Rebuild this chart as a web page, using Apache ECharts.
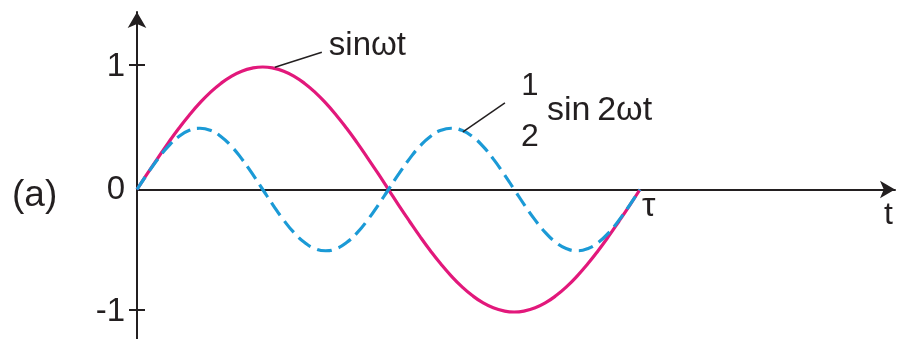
<!DOCTYPE html>
<html>
<head>
<meta charset="utf-8">
<script src="https://cdn.jsdelivr.net/npm/echarts@6/dist/echarts.min.js"></script>
<style>
  html, body { margin: 0; padding: 0; background: #ffffff; }
  #chart { width: 900px; height: 339px; }
</style>
</head>
<body>
<div id="chart"></div>
<script>
// Time samples over one period, t in units of tau (0 .. 1)
const tSamples = [0, 0.0208, 0.0417, 0.0625, 0.0833, 0.1042, 0.125, 0.1458, 0.1667, 0.1875, 0.2083, 0.2292,
                  0.25, 0.2708, 0.2917, 0.3125, 0.3333, 0.3542, 0.375, 0.3958, 0.4167, 0.4375, 0.4583, 0.4792,
                  0.5, 0.5208, 0.5417, 0.5625, 0.5833, 0.6042, 0.625, 0.6458, 0.6667, 0.6875, 0.7083, 0.7292,
                  0.75, 0.7708, 0.7917, 0.8125, 0.8333, 0.8542, 0.875, 0.8958, 0.9167, 0.9375, 0.9583, 0.9792, 1];
// sin(wt)
const sinValues = [0, 0.131, 0.259, 0.383, 0.5, 0.609, 0.707, 0.793, 0.866, 0.924, 0.966, 0.991,
                   1, 0.991, 0.966, 0.924, 0.866, 0.793, 0.707, 0.609, 0.5, 0.383, 0.259, 0.131,
                   0, -0.131, -0.259, -0.383, -0.5, -0.609, -0.707, -0.793, -0.866, -0.924, -0.966, -0.991,
                   -1, -0.991, -0.966, -0.924, -0.866, -0.793, -0.707, -0.609, -0.5, -0.383, -0.259, -0.131, 0];
// (1/2) sin(2wt)
const halfSin2Values = [0, 0.129, 0.25, 0.354, 0.433, 0.483, 0.5, 0.483, 0.433, 0.354, 0.25, 0.129,
                        0, -0.129, -0.25, -0.354, -0.433, -0.483, -0.5, -0.483, -0.433, -0.354, -0.25, -0.129,
                        0, 0.129, 0.25, 0.354, 0.433, 0.483, 0.5, 0.483, 0.433, 0.354, 0.25, 0.129,
                        0, -0.129, -0.25, -0.354, -0.433, -0.483, -0.5, -0.483, -0.433, -0.354, -0.25, -0.129, 0];
// Axis marks
const yTickValues = [-1, 1];
const yLabelValues = [-1, 0, 1];
const periodMark = [1, 0];
// Points on the curves where the callouts attach
const sinCalloutAt = [0.274, 0.99];
const halfCalloutAt = [0.648, 0.479];

const INK = '#231f20';
const PINK = '#e2187b';
const BLUE = '#1b9ad6';
const FONT = '"Liberation Sans", Arial, sans-serif';

const pair = (vals) => tSamples.map((t, i) => [t, vals[i]]);

const chart = echarts.init(document.getElementById('chart'), null, { renderer: 'canvas' });

chart.setOption({
  animation: false,
  backgroundColor: '#ffffff',
  grid: { left: 137, right: 5, top: 12, bottom: 0, containLabel: false, outerBoundsMode: 'none' },
  xAxis: {
    type: 'value',
    min: 0,
    max: 1.507,
    axisLine: {
      onZero: true,
      symbol: ['none', 'arrow'],
      symbolSize: [13, 15],
      lineStyle: { color: INK, width: 2 }
    },
    axisTick: { show: false },
    splitLine: { show: false },
    axisLabel: { show: false }
  },
  yAxis: {
    type: 'value',
    min: -1.2204,
    max: 1.449,
    axisLine: {
      show: true,
      onZero: false,
      symbol: ['none', 'arrow'],
      symbolSize: [14, 16],
      lineStyle: { color: INK, width: 2 }
    },
    axisTick: { show: false },
    splitLine: { show: false },
    axisLabel: {
      customValues: yLabelValues,
      formatter: (v) => String(v),
      margin: 12,
      color: INK,
      fontSize: 33,
      fontFamily: FONT,
      padding: [4, 0, 0, 0]
    }
  },
  graphic: [
    { type: 'text', left: 12, top: 177, style: { text: '(a)', fill: INK, font: '37px ' + FONT } },
    { type: 'text', left: 884, top: 199, style: { text: 't', fill: INK, font: '32px ' + FONT } }
  ],
  series: [
    {
      name: 'sinωt',
      type: 'line',
      data: pair(sinValues),
      smooth: true,
      showSymbol: false,
      lineStyle: { color: PINK, width: 3.2 },
      z: 3
    },
    {
      name: '½ sin2ωt',
      type: 'line',
      data: pair(halfSin2Values),
      smooth: true,
      showSymbol: false,
      lineStyle: { color: BLUE, width: 3.2, type: [15, 7] },
      z: 4
    },
    {
      // Cross ticks on the vertical axis
      type: 'custom',
      clip: false,
      data: yTickValues.map(v => [0, v]),
      renderItem: (params, api) => {
        const p = api.coord([api.value(0), api.value(1)]);
        return {
          type: 'line',
          shape: { x1: p[0] - 8, y1: p[1] - 2, x2: p[0] + 8, y2: p[1] - 2 },
          style: { stroke: INK, lineWidth: 2 }
        };
      },
      z: 5
    },
    {
      // Period mark on the time axis
      type: 'custom',
      clip: false,
      data: [periodMark],
      renderItem: (params, api) => {
        const p = api.coord([api.value(0), api.value(1)]);
        return {
          type: 'text', x: p[0] + 2, y: p[1] + 17,
          style: { text: 'τ', fill: INK, font: '34px ' + FONT, verticalAlign: 'middle', align: 'left' }
        };
      },
      z: 6
    },
    {
      // Callout: sin(wt)
      type: 'custom',
      clip: false,
      data: [sinCalloutAt],
      renderItem: (params, api) => {
        const p = api.coord([api.value(0), api.value(1)]);
        return {
          type: 'group',
          children: [
            { type: 'line', shape: { x1: p[0], y1: p[1] - 1, x2: p[0] + 47, y2: p[1] - 16 },
              style: { stroke: INK, lineWidth: 1.5 } },
            { type: 'text', x: p[0] + 54, y: p[1] - 22,
              style: { text: 'sinωt', fill: INK, font: '33px ' + FONT, verticalAlign: 'middle', align: 'left' } }
          ]
        };
      },
      z: 6
    },
    {
      // Callout: (1/2) sin(2wt)
      type: 'custom',
      clip: false,
      data: [halfCalloutAt],
      renderItem: (params, api) => {
        const p = api.coord([api.value(0), api.value(1)]);
        return {
          type: 'group',
          children: [
            { type: 'line', shape: { x1: p[0], y1: p[1] + 1, x2: p[0] + 42, y2: p[1] - 28 },
              style: { stroke: INK, lineWidth: 1.5 } },
            { type: 'text', x: p[0] + 67, y: p[1] - 44,
              style: { text: '1', fill: INK, font: '31px ' + FONT, verticalAlign: 'middle', align: 'center' } },
            { type: 'text', x: p[0] + 67, y: p[1] + 6,
              style: { text: '2', fill: INK, font: '32px ' + FONT, verticalAlign: 'middle', align: 'center' } },
            { type: 'text', x: p[0] + 84, y: p[1] - 20,
              style: { text: 'sin\u20092ωt', fill: INK, font: '34px ' + FONT, verticalAlign: 'middle', align: 'left' } }
          ]
        };
      },
      z: 6
    }
  ]
});
</script>
</body>
</html>
